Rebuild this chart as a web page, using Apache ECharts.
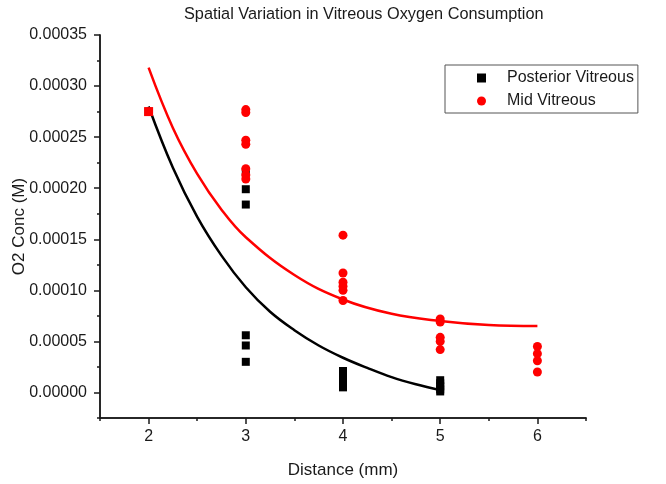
<!DOCTYPE html>
<html><head><meta charset="utf-8">
<script src="https://cdn.jsdelivr.net/npm/echarts@6/dist/echarts.min.js"></script>
<style>html,body{margin:0;padding:0;background:#fff}#c{width:666px;height:484px}</style>
</head><body><div id="c"></div>
<script>
// ---- data ----
const posteriorX = [2, 3, 3, 3, 3, 3, 3, 4, 4, 4, 4, 4, 5, 5, 5, 5, 5];
const posteriorY = [0.000275, 0.000216, 0.000199, 0.000184, 0.000056, 0.000046, 0.000030,
  0.000021, 0.000017, 0.000013, 0.000009, 0.000005,
  0.000012, 0.000009, 0.000006, 0.000003, 0.000001];
const midX = [2, 3, 3, 3, 3, 3, 3, 3, 4, 4, 4, 4, 4, 4, 5, 5, 5, 5, 5, 6, 6, 6, 6];
const midY = [0.000275, 0.000277, 0.000274, 0.000247, 0.000243, 0.000219, 0.000213, 0.000209,
  0.000154, 0.000117, 0.000108, 0.000104, 0.000100, 0.000090,
  0.000072, 0.000069, 0.000054, 0.000050, 0.000042,
  0.000045, 0.000038, 0.000031, 0.000020];
// fitted curves
const fitPostX = [2, 2.25, 2.5, 2.75, 3, 3.25, 3.5, 3.75, 4, 4.25, 4.5, 4.75, 5];
const fitPostY = [0.000280, 0.000220, 0.000172, 0.000134, 0.000103, 0.000079, 0.000061, 0.000046, 0.000034, 0.000024, 0.000015, 0.000008, 0.0000023];
const fitMidX = [2, 2.25, 2.5, 2.75, 3, 3.5, 4, 4.5, 5, 5.5, 6];
const fitMidY = [0.000318, 0.000259, 0.000214, 0.000179, 0.000152, 0.000115, 0.000091, 0.000077, 0.000070, 0.000066, 0.000065];
const yTicks = [0, 0.00005, 0.0001, 0.00015, 0.0002, 0.00025, 0.0003, 0.00035];
const yMinor = [-0.000025, 0.000025, 0.000075, 0.000125, 0.000175, 0.000225, 0.000275, 0.000325];
const xTicks = [2, 3, 4, 5, 6];
const xMinor = [1.5, 2.5, 3.5, 4.5, 5.5, 6.5];
const seriesNames = ['Posterior Vitreous', 'Mid Vitreous'];
const titleText = 'Spatial Variation in Vitreous Oxygen Consumption';

const FONT = 'Liberation Sans, Arial, sans-serif';
const AX = '#1a1a1a';
const pairs = (xs, ys) => xs.map((x, i) => [x, ys[i]]);

const chart = echarts.init(document.getElementById('c'), null, {renderer: 'canvas'});
const baseAxis = {
  axisLine: {show: true, onZero: false, lineStyle: {color: AX, width: 1.5}},
  splitLine: {show: false},
  nameMoveOverlap: false
};
chart.setOption({
  animation: false,
  backgroundColor: '#fff',
  title: {text: titleText, left: 179, top: 2,
    textStyle: {fontFamily: FONT, fontSize: 16.3, fontWeight: 'normal', color: '#1a1a1a'}},
  grid: {left: 100, right: 80, top: 35, bottom: 66, containLabel: false, outerBoundsMode: 'none'},
  legend: {
    orient: 'vertical', left: 445, top: 65,
    data: [{name: seriesNames[0], icon: 'rect'}, {name: seriesNames[1], icon: 'circle'}],
    itemWidth: 9, itemHeight: 9, itemGap: 3,
    borderColor: '#555', borderWidth: 1, borderRadius: 0,
    padding: [3, 4, 2, 32],
    textStyle: {fontFamily: FONT, fontSize: 16, color: '#1a1a1a', padding: [0, 0, 0, 16], lineHeight: 20}
  },
  xAxis: [
    Object.assign({}, baseAxis, {
      type: 'value', min: 1.5, max: 6.5,
      name: 'Distance (mm)', nameLocation: 'middle', nameGap: 44,
      nameTextStyle: {fontFamily: FONT, fontSize: 17, color: '#1a1a1a'},
      axisTick: {show: true, inside: false, length: 6, customValues: xTicks, lineStyle: {color: AX, width: 1.5}},
      axisLabel: {customValues: xTicks, margin: 11, fontFamily: FONT, fontSize: 16, color: '#1a1a1a'}
    }),
    Object.assign({}, baseAxis, {
      type: 'value', min: 1.5, max: 6.5, position: 'bottom',
      axisTick: {show: true, inside: false, length: 3, customValues: xMinor, lineStyle: {color: AX, width: 1.5}},
      axisLabel: {show: false}
    })
  ],
  yAxis: [
    Object.assign({}, baseAxis, {
      type: 'value', min: -0.000025, max: 0.00035,
      name: 'O2 Conc (M)', nameLocation: 'middle', nameGap: 72, nameRotate: 90,
      nameTextStyle: {fontFamily: FONT, fontSize: 17, color: '#1a1a1a'},
      axisTick: {show: true, inside: false, length: 6, customValues: yTicks, lineStyle: {color: AX, width: 1.5}},
      axisLabel: {customValues: yTicks, margin: 13, fontFamily: FONT, fontSize: 16, color: '#1a1a1a',
        formatter: v => Number(v).toFixed(5)}
    }),
    Object.assign({}, baseAxis, {
      type: 'value', min: -0.000025, max: 0.00035, position: 'left',
      axisTick: {show: true, inside: false, length: 3, customValues: yMinor, lineStyle: {color: AX, width: 1.5}},
      axisLabel: {show: false}
    })
  ],
  series: [
    {name: 'fitPost', type: 'line', data: pairs(fitPostX, fitPostY), smooth: 0.4, symbol: 'none',
      lineStyle: {color: '#000', width: 2.5}, z: 1, silent: true, legendHoverLink: false},
    {name: 'fitMid', type: 'line', data: pairs(fitMidX, fitMidY), smooth: 0.4, symbol: 'none',
      lineStyle: {color: '#ff0000', width: 2.5}, z: 1, silent: true, legendHoverLink: false},
    {name: seriesNames[0], type: 'scatter', symbol: 'rect', symbolSize: 8,
      itemStyle: {color: '#000', opacity: 1}, data: pairs(posteriorX, posteriorY), z: 2},
    {name: seriesNames[1], type: 'scatter', symbol: 'circle', symbolSize: 9,
      itemStyle: {color: '#ff0000', opacity: 1}, z: 3,
      data: pairs(midX, midY).map((p, i) => midX[i] === 2 ? {value: p, symbol: 'rect', symbolSize: 9} : p)}
  ]
});
</script></body></html>
